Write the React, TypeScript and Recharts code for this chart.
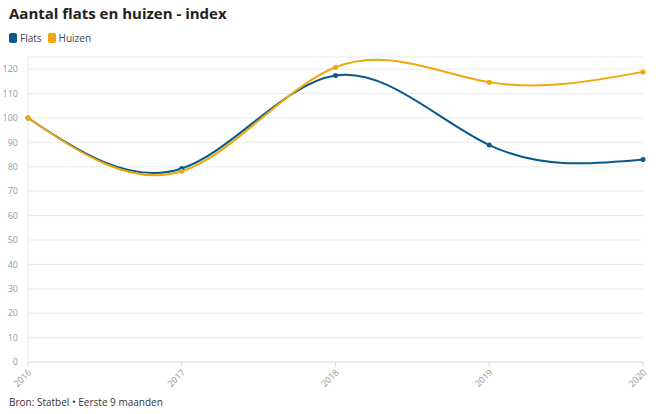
import React from 'react';
import { LineChart, Line, XAxis, YAxis, CartesianGrid } from 'recharts';

const years = ['2016', '2017', '2018', '2019', '2020'];
const flats = [100, 79.3, 117.4, 88.9, 83];
const huizen = [100, 78.2, 120.8, 114.7, 118.9];
const yTicks = [0, 10, 20, 30, 40, 50, 60, 70, 80, 90, 100, 110, 120];

const FLATS_COLOR = '#085a8c';
const HUIZEN_COLOR = '#f0a70a';
const FONT = '"Open Sans", "Noto Sans", sans-serif';

const data = years.map((y, i) => ({ year: y, flats: flats[i], huizen: huizen[i] }));

// rotated year labels under the axis
const YearTick = ({ x, y, payload }: any) => (
  <text
    x={x + 4}
    y={y + 4}
    transform={`rotate(-45 ${x + 4} ${y + 4})`}
    textAnchor="end"
    fontSize={9}
    fill="#999"
    fontFamily={FONT}
  >
    {payload.value}
  </text>
);

const LegendItem = ({ color, label }: { color: string; label: string }) => (
  <span style={{ display: 'inline-flex', alignItems: 'center', marginRight: 6 }}>
    <span style={{ width: 8, height: 10, borderRadius: 2, background: color, marginRight: 3 }} />
    <span style={{ fontSize: 10, color: '#444' }}>{label}</span>
  </span>
);

export default function App() {
  return (
    <div style={{ position: 'absolute', left: 0, top: 0, width: 660, height: 414, background: '#fff', fontFamily: FONT }}>
      <div style={{ position: 'absolute', left: 9, top: 3, fontSize: 15, fontWeight: 700, color: '#222' }}>
        Aantal flats en huizen - index
      </div>
      <div style={{ position: 'absolute', left: 9, top: 31, display: 'flex' }}>
        <LegendItem color={FLATS_COLOR} label="Flats" />
        <LegendItem color={HUIZEN_COLOR} label="Huizen" />
      </div>

      <LineChart
        width={660}
        height={414}
        data={data}
        margin={{ top: 57, right: 17, left: 0, bottom: 0 }}
      >
        <CartesianGrid vertical={false} stroke="#ebebeb" />
        <XAxis
          dataKey="year"
          tick={<YearTick />}
          tickLine={{ stroke: '#ddd' }}
          tickSize={5}
          axisLine={{ stroke: '#e6e6e6' }}
          interval={0}
          height={52}
        />
        <YAxis
          domain={[0, 125]}
          ticks={yTicks}
          width={28}
          tick={{ fontSize: 9, fill: '#999', fontFamily: FONT }}
          tickLine={false}
          axisLine={{ stroke: '#e6e6e6' }}
          tickMargin={4}
          interval={0}
        />
        <Line
          type="natural"
          dataKey="flats"
          stroke={FLATS_COLOR}
          strokeWidth={2}
          dot={{ r: 2.5, fill: FLATS_COLOR, stroke: FLATS_COLOR, strokeWidth: 0 }}
          isAnimationActive={false}
        />
        <Line
          type="natural"
          dataKey="huizen"
          stroke={HUIZEN_COLOR}
          strokeWidth={2}
          dot={{ r: 2.5, fill: HUIZEN_COLOR, stroke: HUIZEN_COLOR, strokeWidth: 0 }}
          isAnimationActive={false}
        />
      </LineChart>

      <div style={{ position: 'absolute', left: 9, top: 395, fontSize: 10, color: '#333' }}>
        Bron: Statbel • Eerste 9 maanden
      </div>
    </div>
  );
}
